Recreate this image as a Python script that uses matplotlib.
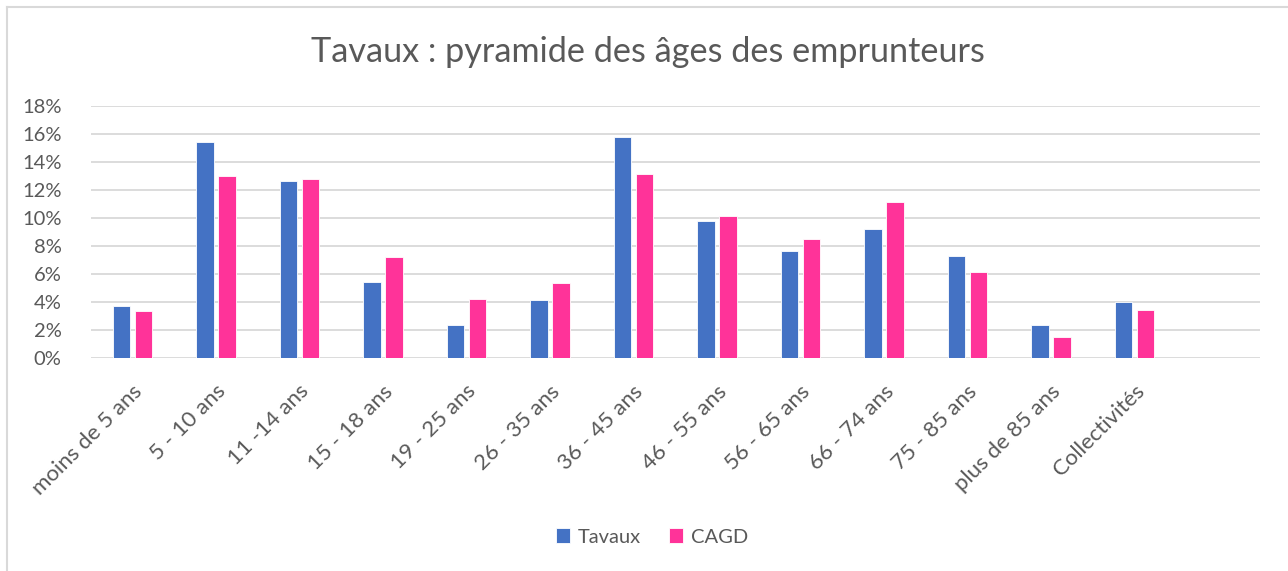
import numpy as np
import matplotlib.pyplot as plt
from matplotlib.lines import Line2D

# Data
categories = ['moins de 5 ans', '5 - 10 ans', '11 -14 ans', '15 - 18 ans', '19 - 25 ans',
              '26 - 35 ans', '36 - 45 ans', '46 - 55 ans', '56 - 65 ans', '66 - 74 ans',
              '75 - 85 ans', 'plus de 85 ans', 'Collectivités']
tavaux = [3.7, 15.4, 12.6, 5.4, 2.3, 4.1, 15.75, 9.75, 7.65, 9.2, 7.25, 2.3, 4.0]
cagd = [3.3, 13.0, 12.75, 7.2, 4.2, 5.3, 13.1, 10.15, 8.45, 11.1, 6.1, 1.45, 3.4]
yticks = [0, 2, 4, 6, 8, 10, 12, 14, 16, 18]

plt.rcParams['font.family'] = ['Lato', 'DejaVu Sans']
text_color = '#595959'

fig = plt.figure(figsize=(12.88, 5.71), dpi=100)
ax = fig.add_axes([0.0704, 0.3736, 0.9076, 0.4413])

x = np.arange(len(categories))
w = 0.21
off = 0.133
ax.bar(x - off, np.array(tavaux) / 100, w, color='#4472C4', edgecolor='white', linewidth=0.6,
       label='Tavaux', zorder=3)
ax.bar(x + off, np.array(cagd) / 100, w, color='#FF3399', edgecolor='white', linewidth=0.6,
       label='CAGD', zorder=3)

# Excel left an empty slot after the last category
ax.set_xlim(-0.5, len(categories) + 0.5)
ax.set_ylim(0, 0.18)
ax.set_yticks([v / 100 for v in yticks])
ax.set_yticklabels([f'{v}%' for v in yticks], fontsize=14.5, color=text_color)
ax.yaxis.grid(True, color='#D9D9D9', linewidth=1.3, zorder=0)

# rotated category labels, end of text slightly right of the category centre
ax.set_xticks(x + 0.08)
ax.set_xticklabels(categories, rotation=45, ha='right', va='center', rotation_mode='anchor',
                   fontsize=16, color=text_color)
ax.tick_params(axis='both', length=0)
ax.tick_params(axis='y', pad=21)
ax.tick_params(axis='x', pad=22)
for s in ax.spines.values():
    s.set_visible(False)

fig.text(648 / 1288, 1 - 52 / 571, 'Tavaux : pyramide des âges des emprunteurs',
         ha='center', va='center', fontsize=24.7, color=text_color)

fig.legend(loc='center', bbox_to_anchor=(652 / 1288, 1 - 537 / 571), ncol=2, frameon=False,
           fontsize=14.5, labelcolor=text_color, handlelength=0.7, handleheight=0.7,
           handletextpad=0.4, columnspacing=1.4)

# light chart border (top and left edges visible)
fig.add_artist(Line2D([7 / 1288, 1], [1 - 7 / 571, 1 - 7 / 571], color='#D9D9D9', linewidth=1.5,
                      transform=fig.transFigure))
fig.add_artist(Line2D([7 / 1288, 7 / 1288], [0, 1 - 7 / 571], color='#D9D9D9', linewidth=1.5,
                      transform=fig.transFigure))

fig.savefig('out.png', dpi=100, facecolor='white')
